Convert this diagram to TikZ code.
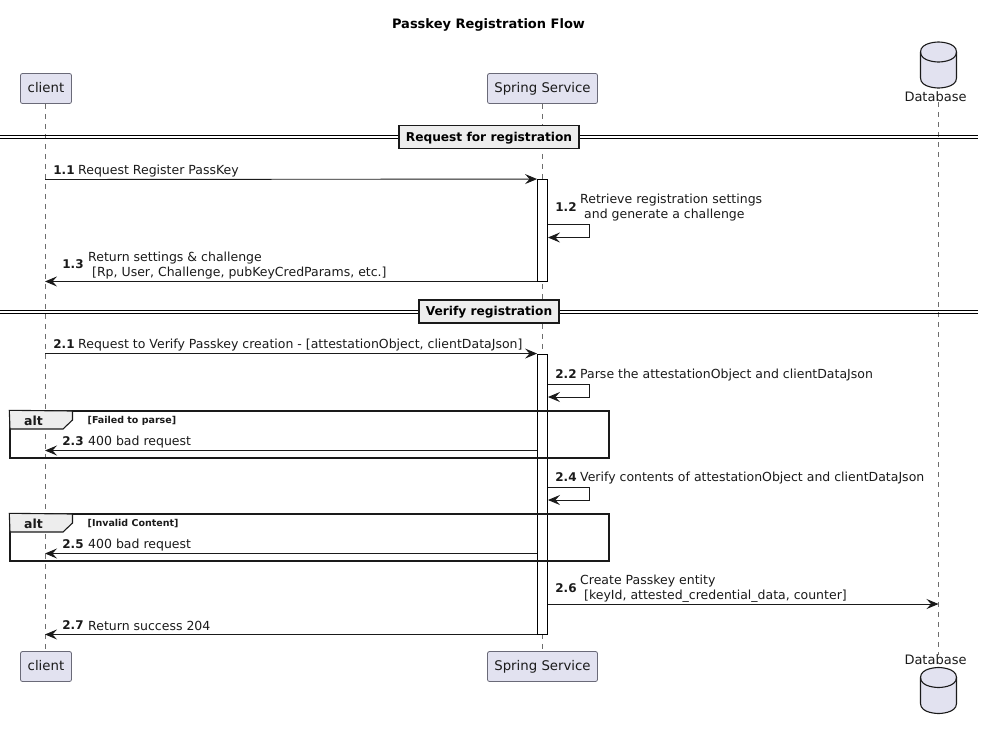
\documentclass[tikz,border=0pt]{standalone}
\usepackage{fontspec}
\setmainfont{DejaVu Sans}
\usepackage{xcolor}
\usetikzlibrary{arrows.meta, positioning}
\definecolor{partfill}{HTML}{E2E2F0}
\definecolor{partline}{HTML}{6A6A78}
\definecolor{lifecol}{HTML}{6E6E6E}
\definecolor{ink}{HTML}{1A1A1A}
\tikzset{
    participant/.style={
        rectangle,
        draw=partline,
        line width=0.8pt,
        rounded corners=2pt,
        minimum height=30pt,
        inner xsep=0pt,
        text height=10pt,
        text depth=2.5pt,
        fill=partfill,
        text=ink,
        font=\fontsize{13.3}{15}\selectfont
    },
    dbshape/.style={
        draw=ink,
        line width=1.1pt,
        fill=partfill
    },
    dbtext/.style={
        inner sep=0pt,
        text=ink,
        font=\fontsize{13}{15}\selectfont
    },
    lifeline/.style={
        draw=lifecol,
        line width=0.6pt,
        dash pattern=on 5pt off 5pt
    },
    activation/.style={
        rectangle,
        draw=black,
        line width=0.9pt,
        minimum width=10pt,
        inner sep=0pt,
        fill=white
    },
    wire/.style={
        draw=ink,
        line width=0.9pt,
        -{Stealth[length=12pt,width=10pt,inset=4.5pt]}
    },
    rule/.style={
        draw=black,
        line width=0.9pt
    },
    divider/.style={
        rectangle,
        draw=ink,
        line width=1.8pt,
        minimum height=23pt,
        inner sep=0pt,
        text height=10pt,
        text depth=1.5pt,
        fill=black!7,
        font=\fontsize{12.2}{14}\selectfont\bfseries
    },
    frame/.style={
        rectangle,
        draw=ink,
        line width=1.4pt,
        minimum width=599pt,
        minimum height=47pt,
        inner sep=0pt
    },
    tab/.style={
        draw=ink,
        line width=1.1pt,
        fill=black!7
    },
    msgnum/.style={
        inner sep=0pt,
        text=ink,
        font=\fontsize{12}{14}\selectfont\bfseries
    },
    msg/.style={
        inner sep=0pt,
        yshift=-1pt,
        align=left,
        anchor=west,
        text=ink,
        font=\fontsize{12.5}{15}\selectfont
    },
    cond/.style={
        inner sep=0pt,
        anchor=west,
        text=ink,
        font=\fontsize{9.5}{11}\selectfont\bfseries
    },
    pics/dbcan/.style={
        code={
            \draw[dbshape] (-18,-13) .. controls (-18,-23) and (0,-23) .. (0,-23)
                .. controls (0,-23) and (18,-23) .. (18,-13) -- (18,13)
                .. controls (18,23) and (0,23) .. (0,23)
                .. controls (0,23) and (-18,23) .. (-18,13) -- cycle;
            \draw[dbshape, fill=none] (-18,-13) .. controls (-18,-3) and (0,-3) .. (0,-3)
                .. controls (0,-3) and (18,-3) .. (18,-13);
        }
    }
}

\begin{document}
\begin{tikzpicture}[x=1pt, y=-1pt]
\useasboundingbox (0,0) rectangle (984,729);

\node[inner sep=0pt, text=black, font=\fontsize{13}{15}\selectfont\bfseries] (title) at (488.5,24.5) {Passkey Registration Flow};

% Participants
\node[participant, minimum width=51pt] (client) at (46,88.5) {client};
\node[participant, minimum width=110pt] (spring) at (542.5,88.5) {Spring Service};
\coordinate (db) at (938.5,65);
\node[dbtext] (dbname) at (935.5,97) {Database};

\node[participant, minimum width=51pt] (clientb) at (46,666.5) {client};
\node[participant, minimum width=110pt] (springb) at (542.5,666.5) {Spring Service};
\node[dbtext] (dbnameb) at (935.5,660) {Database};
\coordinate (dbb) at (938.5,690.5);

% Lifelines
\coordinate (lc) at (45,0);
\coordinate (ls) at (542.5,0);
\draw[lifeline] (lc |- client.south) -- (lc |- clientb.north);
\draw[lifeline] (ls |- spring.south) -- (ls |- springb.north);
\draw[lifeline] (dbname.south -| db) -- (dbnameb.north -| db);

\pic (dbtop) at (db) {dbcan};
\pic (dbbot) at (dbb) {dbcan};

% Request for registration
\draw[rule] (0,135.6) -- (978,135.6);
\draw[rule] (0,138.4) -- (978,138.4);
\node[divider, minimum width=180pt] (d1box) at (489,137) {Request for registration};

\node[activation, minimum height=101.5pt] (act1) at (542.5,230.25) {};

\coordinate (m11) at (0,179.5);
\draw[wire] (lc |- m11) -- (act1.north west);
\node[msgnum] (n11) at (64,170.5) {1.1};
\node[msg] (t11) at (78,170.5) {Request Register PassKey};

\coordinate (m12a) at (0,224.5);
\coordinate (m12b) at (0,237.5);
\draw[wire] (act1.east |- m12a) -- (589.5,224.5) -- (589.5,237.5) -- (act1.east |- m12b);
\node[msgnum] (n12) at (566,207.5) {1.2};
\node[msg] (t12) at (580,207) {Retrieve registration settings\\\ and generate a challenge};

\draw[wire] (act1.south west) -- (lc |- act1.south);
\node[msgnum] (n13) at (73,264.5) {1.3};
\node[msg] (t13) at (88,265) {Return settings \& challenge\\\ [Rp, User, Challenge, pubKeyCredParams, etc.]};

% Verify registration
\draw[rule] (0,310.6) -- (978,310.6);
\draw[rule] (0,313.4) -- (978,313.4);
\node[divider, minimum width=140pt] (d2box) at (489,311.5) {Verify registration};

\node[activation, minimum height=280pt] (act2) at (542.5,494) {};

\draw[wire] (lc |- act2.north) -- (act2.north west);
\node[msgnum] (n21) at (64,344.5) {2.1};
\node[msg] (t21) at (78,344.5) {Request to Verify Passkey creation - [attestationObject, clientDataJson]};

\coordinate (m22a) at (0,384);
\coordinate (m22b) at (0,397);
\draw[wire] (act2.east |- m22a) -- (589.5,384) -- (589.5,397) -- (act2.east |- m22b);
\node[msgnum] (n22) at (566,374.5) {2.2};
\node[msg] (t22) at (580,374.5) {Parse the attestationObject and clientDataJson};

% Failed to parse
\node[frame] (alt1) at (309.5,434.5) {};
\draw[tab] (alt1.north west) -- (72.5,411) -- (72.5,420) -- (63,429) -- (10,429) -- cycle;
\node[msgnum, font=\fontsize{12.5}{14}\selectfont\bfseries] (a1) at (33.5,420.5) {alt};
\node[cond] (c1) at (87.5,421) {[Failed to parse]};
\coordinate (m23) at (0,450.5);
\draw[wire] (act2.west |- m23) -- (lc |- m23);
\node[msgnum] (n23) at (73,441.5) {2.3};
\node[msg] (t23) at (88,441) {400 bad request};

\coordinate (m24a) at (0,487);
\coordinate (m24b) at (0,500);
\draw[wire] (act2.east |- m24a) -- (589.5,487) -- (589.5,500) -- (act2.east |- m24b);
\node[msgnum] (n24) at (566,477.5) {2.4};
\node[msg] (t24) at (580,477.5) {Verify contents of attestationObject and clientDataJson};

% Invalid content
\node[frame] (alt2) at (309.5,537.5) {};
\draw[tab] (alt2.north west) -- (72.5,514) -- (72.5,523) -- (63,532) -- (10,532) -- cycle;
\node[msgnum, font=\fontsize{12.5}{14}\selectfont\bfseries] (a2) at (33.5,523.5) {alt};
\node[cond] (c2) at (87.5,524) {[Invalid Content]};
\coordinate (m25) at (0,553.5);
\draw[wire] (act2.west |- m25) -- (lc |- m25);
\node[msgnum] (n25) at (73,544.5) {2.5};
\node[msg] (t25) at (88,544) {400 bad request};

\coordinate (m26) at (0,604);
\draw[wire] (act2.east |- m26) -- (db |- m26);
\node[msgnum] (n26) at (566,588) {2.6};
\node[msg] (t26) at (580,588) {Create Passkey entity\\\ [keyId, attested\_credential\_data, counter]};

\draw[wire] (act2.south west) -- (lc |- act2.south);
\node[msgnum] (n27) at (73,625) {2.7};
\node[msg] (t27) at (88,625) {Return success 204};

\end{tikzpicture}
\end{document}
